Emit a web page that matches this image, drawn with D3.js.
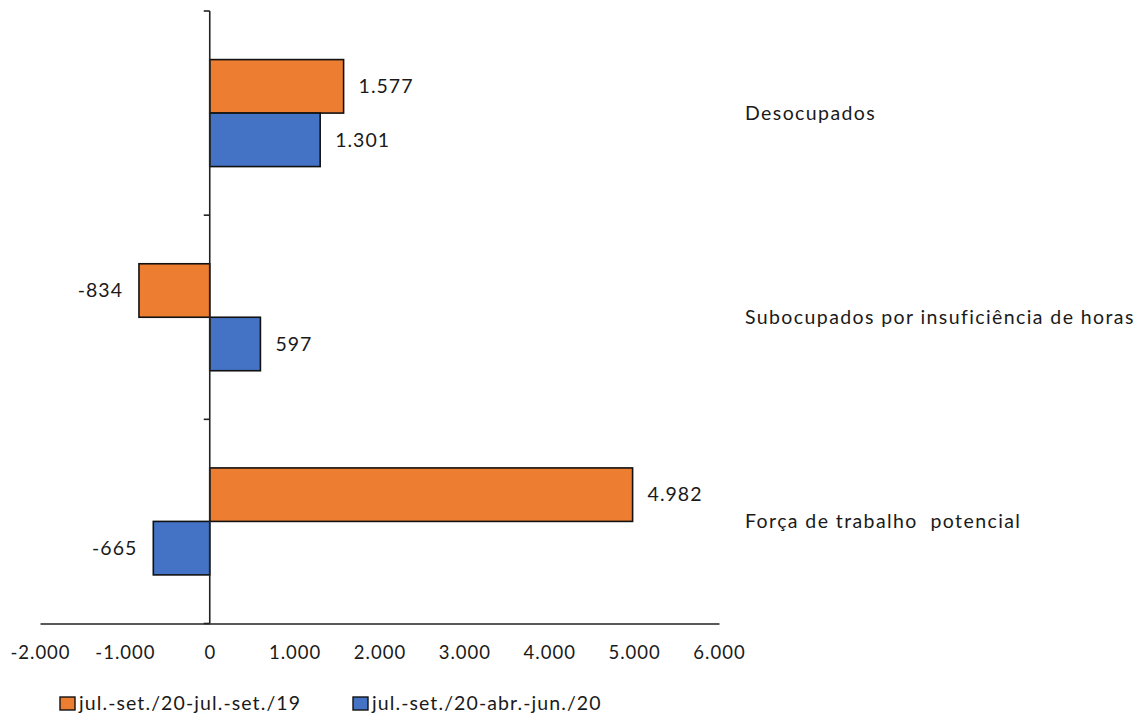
<!DOCTYPE html>
<html>
<head>
<meta charset="utf-8">
<script src="https://cdn.jsdelivr.net/npm/d3@7"></script>
<style>
  html, body { margin: 0; padding: 0; background: #fff; }
  svg { display: block; }
  text { font-family: Lato, "Open Sans", sans-serif; fill: #1a1a1a; }
</style>
</head>
<body>
<svg id="chart" width="1142" height="717"></svg>
<script>
// Categories (top to bottom)
const categories = ["Desocupados", "Subocupados por insuficiência de horas", "Força de trabalho  potencial"];
// Series names
const seriesNames = ["jul.-set./20-jul.-set./19", "jul.-set./20-abr.-jun./20"];
const seriesColors = ["#ED7D31", "#4472C4"];
// Variation values (thousands of people)
const valuesYearOnYear = [1577, -834, 4982];
const valuesQuarterOnQuarter = [1301, 597, -665];
// X axis ticks
const xTicks = [-2000, -1000, 0, 1000, 2000, 3000, 4000, 5000, 6000];

const seriesValues = [valuesYearOnYear, valuesQuarterOnQuarter];
// Thousands separated by "." and a plain hyphen for negatives
const fmt = v => d3.format(",")(v).replace(/,/g, ".").replace("\u2212", "-");

const svg = d3.select("#chart");

const x = d3.scaleLinear().domain([-2000, 6000]).range([40, 719]);
const outer = d3.scaleBand().domain(categories).range([11, 623.5]);
const y = d3.scaleBand().domain(categories).range([11, 623.5])
  .paddingInner(0.476).paddingOuter(0.238);
const ySub = d3.scaleBand().domain(d3.range(seriesNames.length)).range([0, y.bandwidth()]);

// Bars
const rows = [];
categories.forEach((c, i) => {
  seriesValues.forEach((vals, s) => rows.push({ cat: c, s, v: vals[i] }));
});

svg.append("g").selectAll("rect").data(rows).join("rect")
  .attr("x", d => x(Math.min(0, d.v)))
  .attr("y", d => y(d.cat) + ySub(d.s))
  .attr("width", d => Math.abs(x(d.v) - x(0)))
  .attr("height", ySub.bandwidth())
  .attr("fill", d => seriesColors[d.s])
  .attr("stroke", "#111")
  .attr("stroke-width", 1.6);

// Value labels
svg.append("g").selectAll("text").data(rows).join("text")
  .attr("x", d => d.v >= 0 ? x(d.v) + 15 : x(d.v) - 16)
  .attr("y", d => y(d.cat) + ySub(d.s) + ySub.bandwidth() / 2)
  .attr("dy", "0.35em")
  .attr("text-anchor", d => d.v >= 0 ? "start" : "end")
  .attr("font-size", 19.5)
  .attr("letter-spacing", 1)
  .text(d => fmt(d.v));

// X axis (line + labels, no tick marks)
const xAxis = svg.append("g").attr("transform", `translate(0,${outer.range()[1]})`)
  .call(d3.axisBottom(x).tickValues(xTicks).tickSize(0).tickPadding(22).tickFormat(fmt));
xAxis.select(".domain").attr("stroke", "#222").attr("stroke-width", 1.6);
xAxis.selectAll("text").attr("font-size", 18.5).attr("font-family", "Lato, sans-serif")
  .attr("fill", "#1a1a1a").attr("letter-spacing", 1);

// Vertical category axis at zero with small ticks on band edges
const yEdges = categories.map(c => outer(c)).concat([outer.range()[1]]);
const yAxisG = svg.append("g");
yAxisG.append("line")
  .attr("x1", x(0)).attr("x2", x(0))
  .attr("y1", outer.range()[0]).attr("y2", outer.range()[1])
  .attr("stroke", "#222").attr("stroke-width", 1.6);
yAxisG.selectAll("line.tick").data(yEdges).join("line")
  .attr("class", "tick")
  .attr("x1", x(0) - 6).attr("x2", x(0))
  .attr("y1", d => d).attr("y2", d => d)
  .attr("stroke", "#222").attr("stroke-width", 1.6);

// Category labels on the right
svg.append("g").selectAll("text").data(categories).join("text")
  .attr("x", 745)
  .attr("y", c => outer(c) + outer.bandwidth() / 2)
  .attr("dy", "0.35em")
  .attr("font-size", 19.5)
  .attr("letter-spacing", 1.4)
  .attr("xml:space", "preserve")
  .style("white-space", "pre")
  .text(c => c);

// Legend
const legendX = [60, 353];
const lg = svg.append("g").selectAll("g").data(seriesNames).join("g")
  .attr("transform", (d, i) => `translate(${legendX[i]},697)`);
lg.append("rect").attr("width", 15).attr("height", 13)
  .attr("fill", (d, i) => seriesColors[i]).attr("stroke", "#111").attr("stroke-width", 1.4);
lg.append("text").attr("x", 19).attr("y", 6.5).attr("dy", "0.35em")
  .attr("font-size", 19.5).attr("letter-spacing", 1.1).text(d => d);
</script>
</body>
</html>
